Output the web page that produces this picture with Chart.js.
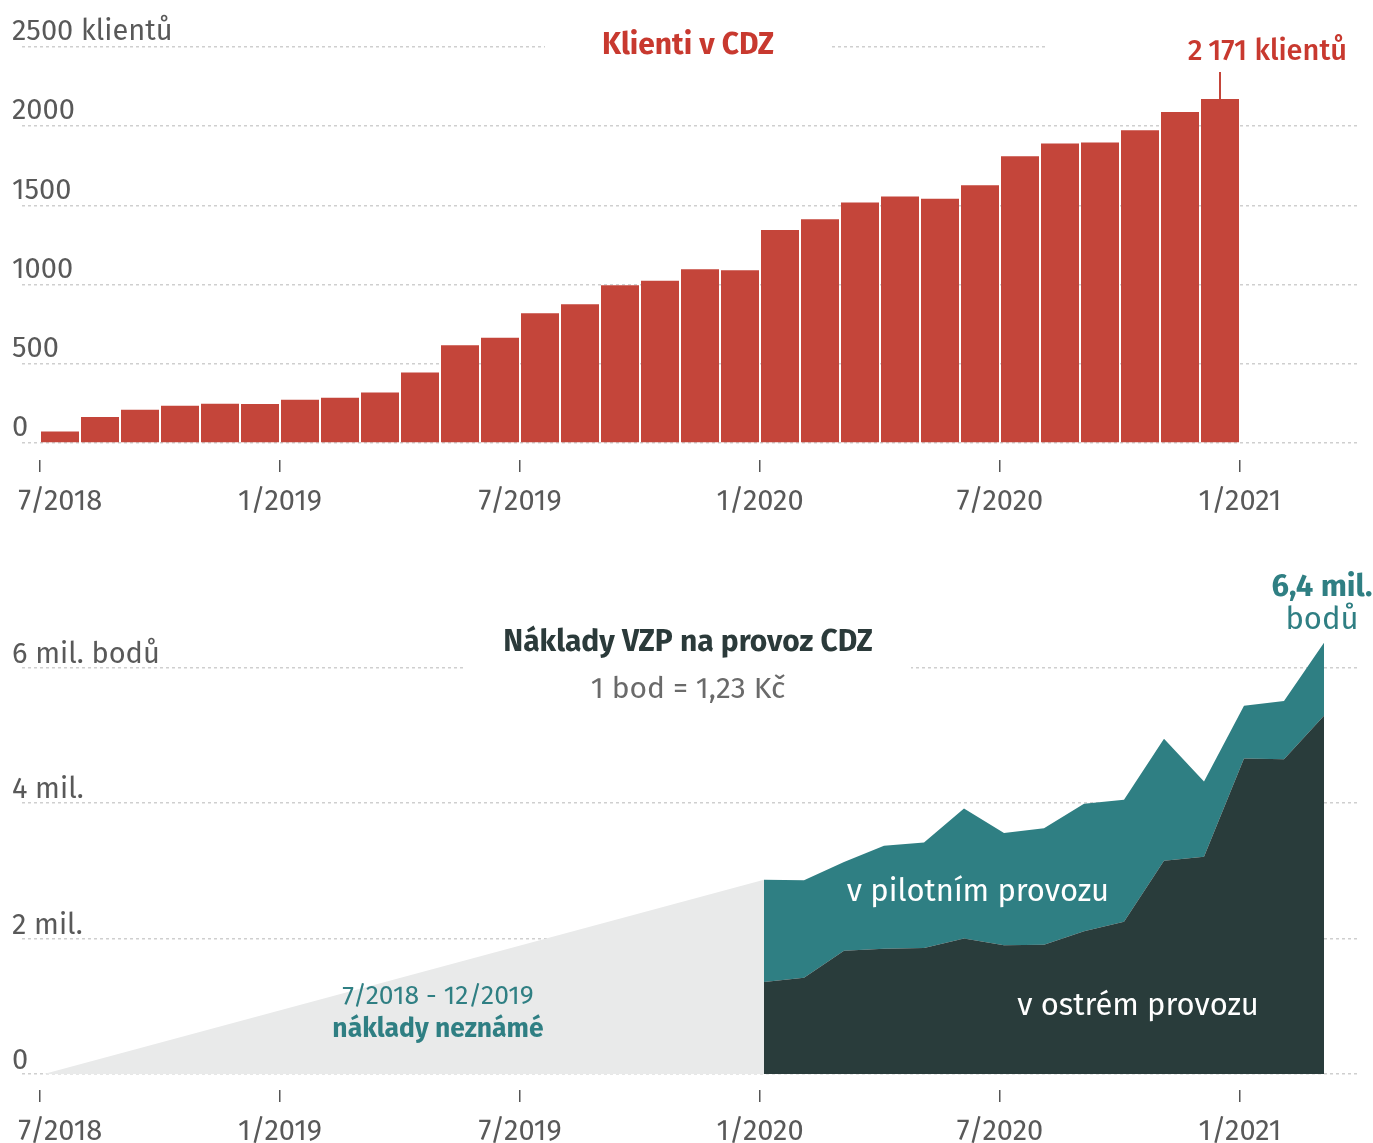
<!DOCTYPE html>
<html lang="cs">
<head>
<meta charset="utf-8">
<title>Klienti v CDZ</title>
<script src="https://cdn.jsdelivr.net/npm/chart.js@4/dist/chart.umd.min.js"></script>
<style>
html, body { margin: 0; padding: 0; background: #fff; overflow: hidden; }
#klienti { position: absolute; left: 0; top: 0; }
#naklady { position: absolute; left: 0; top: 540px; }
</style>
</head>
<body>
<canvas id="klienti" width="1373" height="540"></canvas>
<canvas id="naklady" width="1373" height="630"></canvas>
<script>
// --- data ---
const klientiMesice = ['7/2018','8/2018','9/2018','10/2018','11/2018','12/2018',
  '1/2019','2/2019','3/2019','4/2019','5/2019','6/2019','7/2019','8/2019','9/2019',
  '10/2019','11/2019','12/2019','1/2020','2/2020','3/2020','4/2020','5/2020','6/2020',
  '7/2020','8/2020','9/2020','10/2020','11/2020','12/2020'];
const klienti = [73, 164, 210, 235, 248, 246, 273, 286, 319, 445, 618, 664, 819, 876, 996,
  1025, 1097, 1090, 1345, 1412, 1519, 1557, 1542, 1628, 1811, 1891, 1897, 1975, 2090, 2171];

const nakladyMesice = ['1/2020','2/2020','3/2020','4/2020','5/2020','6/2020','7/2020',
  '8/2020','9/2020','10/2020','11/2020','12/2020','1/2021','2/2021','3/2021'];
// mil. bodů
const ostry   = [1.36, 1.42, 1.82, 1.85, 1.86, 2.00, 1.90, 1.91, 2.11, 2.25, 3.15, 3.21, 4.66, 4.65, 5.29];
const pilotni = [1.51, 1.44, 1.31, 1.52, 1.56, 1.92, 1.66, 1.72, 1.88, 1.80, 1.80, 1.11, 0.78, 0.86, 1.08];
const neznameMesice = ['7/2018', '1/2020'];
const nezname = [0, 2.87];

const osaTicks = [0, 6, 12, 18, 24, 30];
const osaLabels = ['7/2018', '1/2019', '7/2019', '1/2020', '7/2020', '1/2021'];
const klientiTicks = [0, 500, 1000, 1500, 2000, 2500];
const klientiTickLabels = ['0', '500', '1000', '1500', '2000', '2500 klientů'];
const nakladyTicks = [0, 2, 4, 6];
const nakladyTickLabels = ['0', '2 mil.', '4 mil.', '6 mil. bodů'];

// --- barvy, písmo ---
const FONT = "'Fira Sans', 'Noto Sans', sans-serif";
const cervena = '#c4453a';
const tyrkys = '#2f7f83';
const tmava = '#293c3b';
const seda = '#e9eaea';
const textSeda = '#595959';

// mesic "m/rrrr" -> poradi od 7/2018
function poradi(m) {
  const [mm, rr] = m.split('/').map(Number);
  return (rr - 2018) * 12 + (mm - 7);
}

function osaX() {
  return {
    type: 'linear', min: -0.45, max: 32.925, offset: false,
    afterBuildTicks: ax => { ax.ticks = osaTicks.map(v => ({ value: v })); },
    afterFit: ax => { ax.paddingLeft = 0; ax.paddingRight = 0; },
    grid: { offset: false, drawOnChartArea: false, drawTicks: true, tickLength: 12, color: '#555', lineWidth: 1.5 },
    border: { display: false },
    ticks: {
      padding: 13, color: textSeda, maxRotation: 0, autoSkip: false,
      font: { family: FONT, size: 29 },
      // prvni popisek posunuty doprava, aby nepresahoval okraj
      callback: (v, i) => (i === 0 ? '\u2003\u2009\u2009' : '') + osaLabels[osaTicks.indexOf(v)]
    }
  };
}

function osaY(min, max, ticks, labels, offset) {
  return {
    min: min, max: max,
    afterBuildTicks: ax => { ax.ticks = ticks.map(v => ({ value: v })); },
    afterFit: ax => { ax.width = 0; ax.paddingTop = 0; ax.paddingBottom = 0; },
    grid: { color: '#cfcfcf', lineWidth: 1.5, drawTicks: false },
    border: { display: false, dash: [3, 3] },
    ticks: {
      mirror: true, padding: -10, labelOffset: offset, color: textSeda,
      font: { family: FONT, size: 29 },
      callback: v => labels[ticks.indexOf(v)]
    }
  };
}

function text(ctx, s, x, y, font, color, align) {
  ctx.font = font;
  ctx.fillStyle = color;
  ctx.textAlign = align || 'center';
  ctx.textBaseline = 'middle';
  ctx.fillText(s, x, y);
}

// --- graf 1: klienti ---
const popiskyKlienti = {
  id: 'popiskyKlienti',
  afterDraw(chart) {
    const { ctx, chartArea } = chart;
    const cx = (chartArea.left + chartArea.right) / 2 - 1.5;
    ctx.save();
    ctx.fillStyle = '#fff';
    ctx.fillRect(cx - 143, 25, 286, 45);
    text(ctx, 'Klienti v CDZ', cx, 46, 'bold 30px ' + FONT, '#c8392f');

    const bar = chart.getDatasetMeta(0).data[klienti.length - 1];
    ctx.fillStyle = '#fff';
    ctx.fillRect(1045, 25, 328, 46);
    text(ctx, '2\u2009171 klientů', 1347, 52, '500 29px ' + FONT, '#c8392f', 'right');
    ctx.strokeStyle = cervena;
    ctx.lineWidth = 2;
    ctx.beginPath();
    ctx.moveTo(bar.x, bar.y);
    ctx.lineTo(bar.x, 72);
    ctx.stroke();
    ctx.restore();
  }
};

new Chart(document.getElementById('klienti'), {
  type: 'bar',
  data: {
    datasets: [{
      data: klientiMesice.map((m, i) => ({ x: poradi(m) + 0.5, y: klienti[i] })),
      backgroundColor: cervena,
      borderWidth: 0,
      barPercentage: 0.95,
      categoryPercentage: 1
    }]
  },
  options: {
    responsive: false,
    animation: false,
    layout: { autoPadding: false, padding: { left: 22, right: 16, top: 47, bottom: 7.2 } },
    plugins: { legend: { display: false }, tooltip: { enabled: false } },
    scales: {
      x: osaX(),
      y: osaY(-107, 2500, klientiTicks, klientiTickLabels, -15)
    }
  },
  plugins: [popiskyKlienti]
});

// --- graf 2: naklady ---
const popiskyNaklady = {
  id: 'popiskyNaklady',
  afterDraw(chart) {
    const { ctx, chartArea, scales: { x, y } } = chart;
    const cx = (chartArea.left + chartArea.right) / 2 - 1.5;
    ctx.save();
    ctx.fillStyle = '#fff';
    ctx.fillRect(cx - 223, 80, 446, 90);
    text(ctx, 'Náklady VZP na provoz CDZ', cx, 103, 'bold 30px ' + FONT, '#2b3a3a');
    text(ctx, '1 bod = 1,23 Kč', cx, 150, '30px ' + FONT, '#6a6a6a');

    const last = chart.getDatasetMeta(2).data[nakladyMesice.length - 1];
    text(ctx, '6,4 mil.', last.x - 2, last.y - 55, 'bold 31px ' + FONT, tyrkys);
    text(ctx, 'bodů', last.x - 2, last.y - 22, '31px ' + FONT, tyrkys);

    text(ctx, 'v pilotním provozu', x.getPixelForValue(23.45), y.getPixelForValue(2.69), '31px ' + FONT, '#fff');
    text(ctx, 'v ostrém provozu', x.getPixelForValue(27.45), y.getPixelForValue(1.0), '31px ' + FONT, '#fff');

    const gx = x.getPixelForValue(9.95);
    const gy = y.getPixelForValue(1.14);
    text(ctx, '7/2018 - 12/2019', gx, gy, '26.5px ' + FONT, tyrkys);
    text(ctx, 'náklady neznámé', gx, gy + 33, 'bold 26.5px ' + FONT, tyrkys);
    ctx.restore();
  }
};

const plocha = { borderWidth: 0, pointRadius: 0, tension: 0 };

new Chart(document.getElementById('naklady'), {
  type: 'line',
  data: {
    datasets: [
      Object.assign({
        data: neznameMesice.map((m, i) => ({ x: poradi(m) + 0.1, y: nezname[i] })),
        fill: 'origin', backgroundColor: seda
      }, plocha),
      Object.assign({
        data: nakladyMesice.map((m, i) => ({ x: poradi(m) + 0.1, y: ostry[i] })),
        fill: 'origin', backgroundColor: tmava
      }, plocha),
      Object.assign({
        data: nakladyMesice.map((m, i) => ({ x: poradi(m) + 0.1, y: ostry[i] + pilotni[i] })),
        fill: '-1', backgroundColor: tyrkys
      }, plocha)
    ]
  },
  options: {
    responsive: false,
    animation: false,
    layout: { autoPadding: false, padding: { left: 22, right: 16, top: 60, bottom: 7.2 } },
    plugins: { legend: { display: false }, tooltip: { enabled: false } },
    scales: {
      x: osaX(),
      y: osaY(-0.236, 7, nakladyTicks, nakladyTickLabels, -13)
    }
  },
  plugins: [popiskyNaklady]
});
</script>
</body>
</html>
